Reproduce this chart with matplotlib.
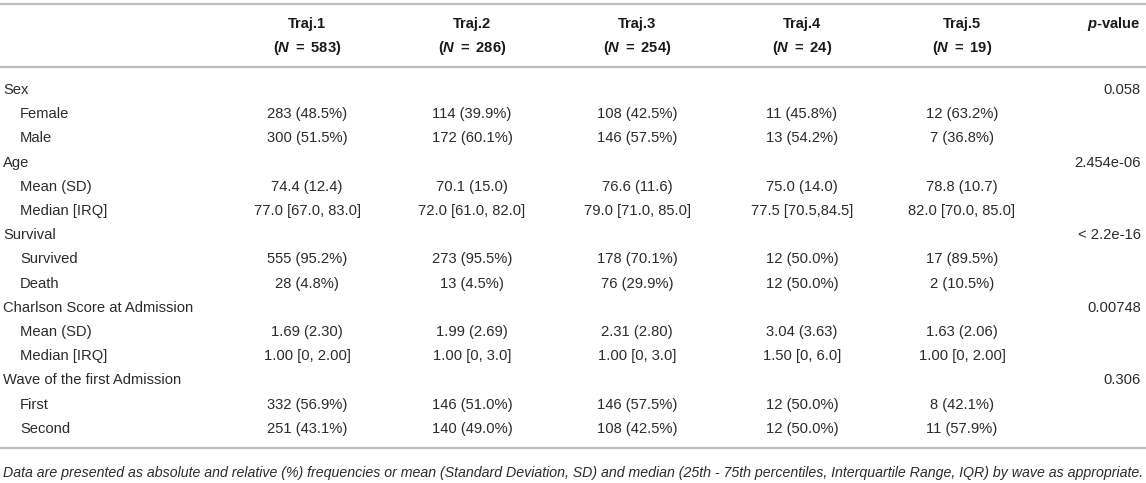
import matplotlib
matplotlib.use('Agg')
import matplotlib.pyplot as plt

# ---- table data -------------------------------------------------------
traj_names = ['Traj.1', 'Traj.2', 'Traj.3', 'Traj.4', 'Traj.5']
traj_n = [583, 286, 254, 24, 19]

groups = ['Sex', 'Age', 'Survival', 'Charlson Score at Admission',
          'Wave of the first Admission']
p_values = ['0.058', '2.454e-06', '< 2.2e-16', '0.00748', '0.306']

sub_labels = [
    ['Female', 'Male'],
    ['Mean (SD)', 'Median [IRQ]'],
    ['Survived', 'Death'],
    ['Mean (SD)', 'Median [IRQ]'],
    ['First', 'Second'],
]

cells = [
    [['283 (48.5%)', '114 (39.9%)', '108 (42.5%)', '11 (45.8%)', '12 (63.2%)'],
     ['300 (51.5%)', '172 (60.1%)', '146 (57.5%)', '13 (54.2%)', '7 (36.8%)']],
    [['74.4 (12.4)', '70.1 (15.0)', '76.6 (11.6)', '75.0 (14.0)', '78.8 (10.7)'],
     ['77.0 [67.0, 83.0]', '72.0 [61.0, 82.0]', '79.0 [71.0, 85.0]',
      '77.5 [70.5,84.5]', '82.0 [70.0, 85.0]']],
    [['555 (95.2%)', '273 (95.5%)', '178 (70.1%)', '12 (50.0%)', '17 (89.5%)'],
     ['28 (4.8%)', '13 (4.5%)', '76 (29.9%)', '12 (50.0%)', '2 (10.5%)']],
    [['1.69 (2.30)', '1.99 (2.69)', '2.31 (2.80)', '3.04 (3.63)', '1.63 (2.06)'],
     ['1.00 [0, 2.00]', '1.00 [0, 3.0]', '1.00 [0, 3.0]', '1.50 [0, 6.0]',
      '1.00 [0, 2.00]']],
    [['332 (56.9%)', '146 (51.0%)', '146 (57.5%)', '12 (50.0%)', '8 (42.1%)'],
     ['251 (43.1%)', '140 (49.0%)', '108 (42.5%)', '12 (50.0%)', '11 (57.9%)']],
]

footnote = ('Data are presented as absolute and relative (%) frequencies or mean '
            '(Standard Deviation, SD) and median (25th - 75th percentiles, '
            'Interquartile Range, IQR) by wave as appropriate.')

# ---- layout (pixels) --------------------------------------------------
W, H = 1146, 483
col_x = [307, 472, 637, 802, 962]
p_x = 1141
row_y0, row_dy = 90, 24.2
txt = '#2b2b2b'
rule = '#bdbdbd'
fs = 10.6

plt.rcParams['font.family'] = ['Liberation Sans', 'DejaVu Sans']
plt.rcParams['mathtext.fontset'] = 'custom'
plt.rcParams['mathtext.it'] = 'Liberation Sans:bold:italic'
plt.rcParams['mathtext.rm'] = 'Liberation Sans:bold'

fig = plt.figure(figsize=(W / 100, H / 100), dpi=100)
ax = fig.add_axes([0, 0, 1, 1])
ax.set_xlim(0, W)
ax.set_ylim(H, 0)
ax.axis('off')

# rules
for y in [4, 67, 448]:
    ax.plot([0, W], [y, y], color=rule, lw=1.6, solid_capstyle='butt')

# header
for x, name, n in zip(col_x, traj_names, traj_n):
    ax.text(x, 24, name, ha='center', va='center', fontsize=fs,
            fontweight='bold', color='#1a1a1a')
    ax.text(x, 48, r'($\mathit{N}$ $=$ %d)' % n, ha='center', va='center',
            fontsize=fs, fontweight='bold', color='#1a1a1a')
ax.text(p_x, 24, r'$\mathit{p}$-value', ha='right', va='center',
        fontsize=fs, fontweight='bold', color='#1a1a1a')

# body
i = 0
for g, p, subs, vals in zip(groups, p_values, sub_labels, cells):
    y = row_y0 + i * row_dy
    ax.text(3, y, g, ha='left', va='center', fontsize=fs, color=txt)
    ax.text(p_x, y, p, ha='right', va='center', fontsize=fs, color=txt)
    i += 1
    for lab, row in zip(subs, vals):
        y = row_y0 + i * row_dy
        ax.text(20, y, lab, ha='left', va='center', fontsize=fs, color=txt)
        for x, v in zip(col_x, row):
            ax.text(x, y, v, ha='center', va='center', fontsize=fs, color=txt)
        i += 1

ax.text(3, 473, footnote, ha='left', va='center', fontsize=10.2,
        style='italic', color=txt)

fig.savefig('out.png', dpi=100)
